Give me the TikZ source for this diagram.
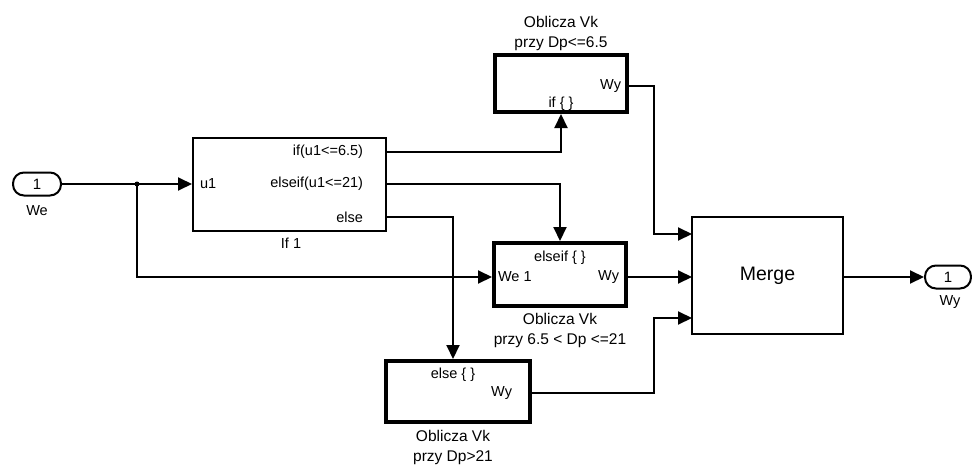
\documentclass[tikz,border=0pt]{standalone}
\usepackage{fontspec}
\setmainfont{Liberation Sans}
\usetikzlibrary{arrows.meta}
\begin{document}
\begin{tikzpicture}[x=1pt,y=-1pt,>={Triangle[length=14pt,width=13pt]},line width=2pt,
	blok/.style={draw,line width=2pt,inner sep=0pt},
	podsys/.style={draw,line width=4pt,inner sep=0pt,minimum width=132pt},
	port/.style={draw,rounded corners=11pt,minimum width=48pt,minimum height=23pt,inner sep=0pt,font=\fontsize{15}{16}\selectfont},
	etyk/.style={inner sep=0pt,font=\fontsize{14.5}{16}\selectfont},
	tytul/.style={align=center,inner sep=0pt,font=\fontsize{15.5}{20}\selectfont}]
	\useasboundingbox (0,0) rectangle (972,466);
	\node[port] (we) at (37,184) {1};
	\node[etyk] (welab) at (37,211) {We};
	\node[blok,minimum width=193pt,minimum height=93pt] (if1) at (289.5,184.5) {};
	\node[etyk,anchor=west] (pu1) at (199,184) {u1};
	\node[etyk,anchor=east] (pif) at (364,152) {if(u1<=6.5)};
	\node[etyk,anchor=east] (pelif) at (364,184) {elseif(u1<=21)};
	\node[etyk,anchor=east] (pelse) at (364,217) {else};
	\node[etyk] (if1lab) at (291,243) {If 1};
	\node[podsys,minimum height=57pt] (top) at (561,83.5) {};
	\node[etyk,anchor=east] (pwytop) at (622,86) {Wy};
	\node[etyk] (ptrigtop) at (561,104) {if \{ \}};
	\node[tytul] (toptyt) at (561,33) {Oblicza Vk\\przy Dp<=6.5};
	\node[podsys,minimum height=63pt] (mid) at (560,274.5) {};
	\node[etyk] (ptrigmid) at (560,258) {elseif \{ \}};
	\node[etyk,anchor=west] (pwe1) at (497,277) {We 1};
	\node[etyk,anchor=east] (pwymid) at (620,277) {Wy};
	\node[tytul] (midtyt) at (560,330) {Oblicza Vk\\przy 6.5 < Dp <=21};
	\node[podsys,minimum width=144pt,minimum height=61pt] (bot) at (458,391.5) {};
	\node[etyk] (ptrigbot) at (453,375) {else \{ \}};
	\node[etyk,anchor=east] (pwybot) at (513,393) {Wy};
	\node[tytul] (bottyt) at (453,447.5) {Oblicza Vk\\przy Dp>21};
	\node[blok,minimum width=151pt,minimum height=117pt,font=\fontsize{19.5}{22}\selectfont] (merge) at (767.5,275.5) {Merge};
	\coordinate (m1) at (692,234);
	\coordinate (m2) at (692,277);
	\coordinate (m3) at (692,318);
	\node[port,minimum width=46pt] (wy) at (948,277) {1};
	\node[etyk] (wylab) at (950,302) {Wy};
	\coordinate (split) at (137,184);
	\fill (split) circle (2.5pt);
	\draw[->] (we) -- (if1.west |- we);
	\draw[->] (split) |- (mid.west |- pwe1);
	\draw[->] (if1.east |- pif) -| (top.south);
	\draw[->] (if1.east |- pelif) -| (mid.north);
	\draw[->] (if1.east |- pelse) -| (bot.north -| ptrigbot);
	\draw[->] (top.east |- pwytop) -- ++(25,0) |- (m1);
	\draw[->] (mid.east |- pwymid) -- (m2);
	\draw[->] (bot.east |- pwybot) -- ++(122,0) |- (m3);
	\draw[->] (merge.east |- wy) -- (wy);
\end{tikzpicture}
\end{document}
